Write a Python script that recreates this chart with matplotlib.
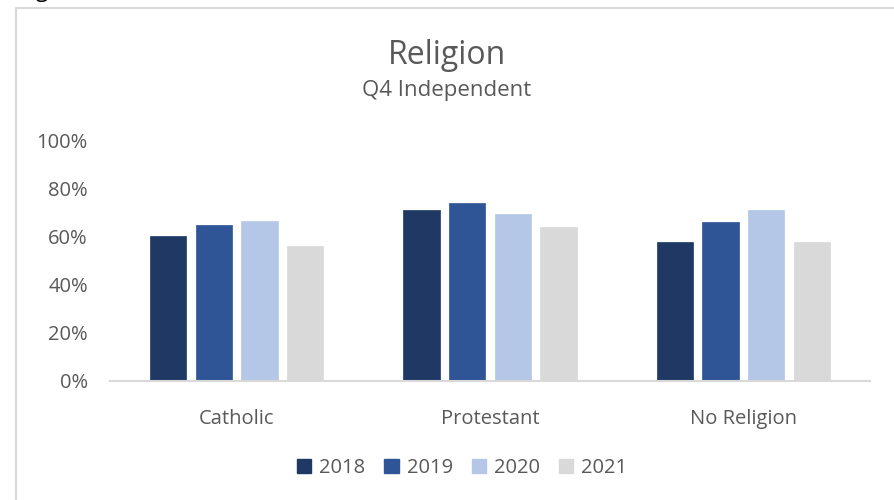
import matplotlib.pyplot as plt
import matplotlib.patches as patches
import numpy as np

# data
categories = ['Catholic', 'Protestant', 'No Religion']
years = ['2018', '2019', '2020', '2021']
share_2018 = [0.604, 0.711, 0.578]
share_2019 = [0.649, 0.739, 0.660]
share_2020 = [0.667, 0.694, 0.711]
share_2021 = [0.560, 0.640, 0.578]

colors = ['#1F3864', '#2F5597', '#B4C7E7', '#D9D9D9']
text_grey = '#595959'

plt.rcParams['font.family'] = ['Open Sans', 'DejaVu Sans']

fig = plt.figure(figsize=(8.94, 5.0), dpi=100)
ax = fig.add_axes([110/894, 1 - 381/500, 760/894, 240.5/500])

x = np.arange(len(categories))
step = 0.18
width = 0.1437
all_vals = [share_2018, share_2019, share_2020, share_2021]
for j in range(len(years)):
    ax.bar(x + (j - 1.5)*step, all_vals[j], width, color=colors[j], label=years[j],
           edgecolor=colors[j], linewidth=0.5)

ax.set_xlim(-0.5, 2.5)
ax.set_ylim(0, 1.0)
ax.set_yticks(np.arange(0, 1.01, 0.2))
ax.set_yticklabels(['%d%%' % round(v*100) for v in np.arange(0, 1.01, 0.2)])
ax.set_xticks(x)
ax.set_xticklabels(categories)
ax.tick_params(axis='y', length=0, pad=16, labelsize=14.5, labelcolor=text_grey)
ax.tick_params(axis='x', length=0, pad=20, labelsize=14.5, labelcolor=text_grey)
for s in ['top', 'right', 'left']:
    ax.spines[s].set_visible(False)
ax.spines['bottom'].set_color('#D9D9D9')
ax.spines['bottom'].set_linewidth(1.5)

fig.text(0.5, 1 - 56/500, 'Religion', ha='center', va='center', fontsize=23, color=text_grey)
fig.text(0.5, 1 - 91/500, 'Q4 Independent', ha='center', va='center', fontsize=16, color=text_grey)

handles = [patches.Patch(color=colors[j], label=years[j]) for j in range(len(years))]
fig.legend(handles=handles, loc='center', bbox_to_anchor=(0.517, 1 - 468/500), ncol=4,
           frameon=False, handlelength=0.7, handleheight=0.7, handletextpad=0.4,
           columnspacing=0.95, fontsize=14.5, labelcolor=text_grey)

# chart border (runs off the right and bottom edges)
fig.patches.append(patches.Rectangle((16/894, -0.2), 1.2, 1.2 - 8/500, transform=fig.transFigure,
                                     fill=False, edgecolor='#D9D9D9', linewidth=1.5))
# clipped caption above the chart
fig.text(36/894, 1 + 3/500, 'g', ha='left', va='baseline', fontsize=16, color='black')

fig.savefig('out.png', dpi=100)
